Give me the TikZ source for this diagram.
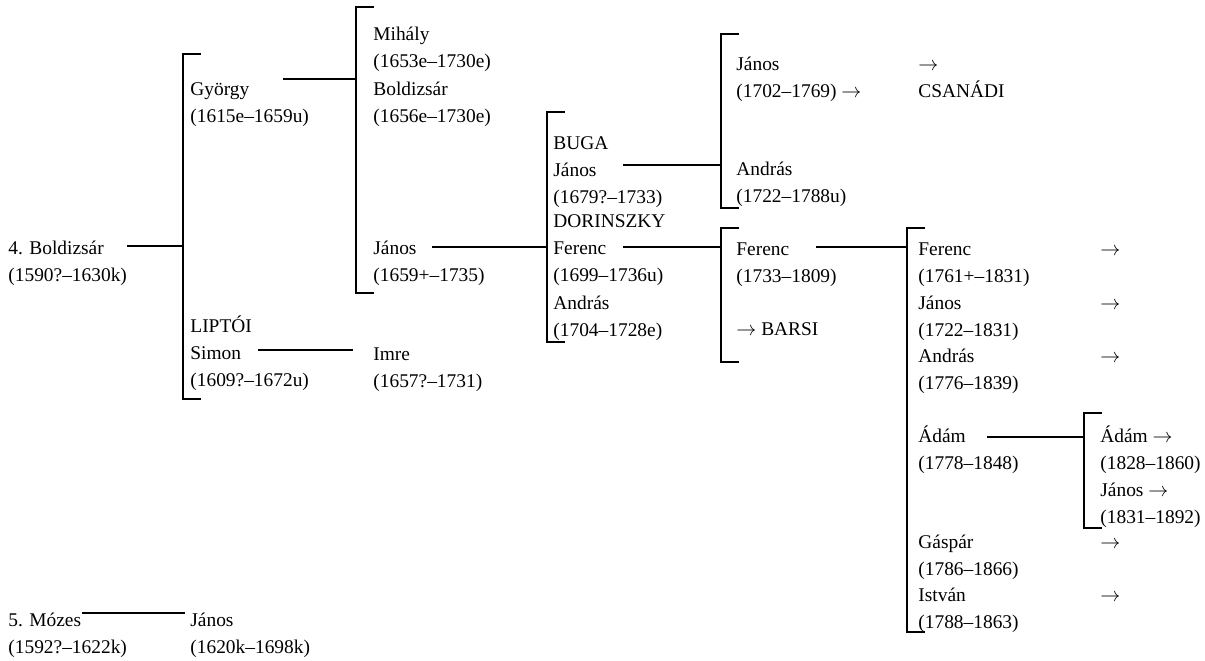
\documentclass[tikz,border=0pt]{standalone}
\usepackage{fontspec}
\setmainfont{Liberation Serif}
\usetikzlibrary{calc}
\begin{document}
\begin{tikzpicture}[x=0.5pt,y=-0.5pt,
  person/.style={anchor=base west,inner sep=0pt,align=left,font=\fontsize{9.7}{13.5}\selectfont},
  link/.style={line width=0.75pt}]
\useasboundingbox (0,0) rectangle (1205,660);

% Generation 1
\node[person] (boldizsar) at (8,281) {4. Boldizsár\\(1590?–1630k)};
\node[person] (mozes) at (8,653) {5. Mózes\\(1592?–1622k)};

% Generation 2
\node[person] (gyorgy) at (190,122) {György\\(1615e–1659u)};
\node[person] (liptoi) at (190,386) {LIPTÓI\\Simon\\(1609?–1672u)};
\node[person] (janos0) at (190,653) {János\\(1620k–1698k)};

% Generation 3
\node[person] (mihaly) at (373,67) {Mihály\\(1653e–1730e)};
\node[person] (boldizsar2) at (373,122) {Boldizsár\\(1656e–1730e)};
\node[person] (janos1) at (373,281) {János\\(1659+–1735)};
\node[person] (imre) at (373,387) {Imre\\(1657?–1731)};

% Generation 4
\node[person] (buga) at (553,203) {BUGA\\János\\(1679?–1733)};
\node[person] (dorinszky) at (553,281) {DORINSZKY\\Ferenc\\(1699–1736u)};
\node[person] (andras1) at (553,336) {András\\(1704–1728e)};

% Generation 5
\node[person] (janos2) at (736,97) {János\\(1702–1769) $\rightarrow$};
\node[person] (csanadi) at (918,97) {$\rightarrow$\\CSANÁDI};
\node[person] (andras2) at (736,202) {András\\(1722–1788u)};
\node[person] (ferenc1) at (736,282) {Ferenc\\(1733–1809)};
\node[person] (barsi) at (736,335) {$\rightarrow$ BARSI};

% Generation 6
\node[person] (ferenc2) at (918,282) {Ferenc\\(1761+–1831)};
\node[person] (janos3) at (918,336) {János\\(1722–1831)};
\node[person] (andras3) at (918,389) {András\\(1776–1839)};
\node[person] (adam1) at (918,469) {Ádám\\(1778–1848)};
\node[person] (gaspar) at (918,575) {Gáspár\\(1786–1866)};
\node[person] (istvan) at (918,628) {István\\(1788–1863)};
\foreach \name/\y in {ferenc/255,janos/309,andras/362,gaspar/548,istvan/601}
  \node[person] (arrow-\name) at (1100,\y) {$\rightarrow$};

% Generation 7
\node[person] (adam2) at (1100,469) {Ádám $\rightarrow$\\(1828–1860)};
\node[person] (janos4) at (1100,523) {János $\rightarrow$\\(1831–1892)};

% Brackets
\foreach \x/\top/\bot in {183/54/399,356/7/293,547/112/342,721/34/208,721/228/362,907/228/632,1084/413/528}
  \draw[link] (\x+18,\top) -- (\x,\top) -- (\x,\bot) -- (\x+18,\bot);
\coordinate (j1) at (183,246);
\coordinate (j2) at (356,79);
\coordinate (j3) at (547,247);
\coordinate (j4) at (721,165);
\coordinate (j5) at (721,247);
\coordinate (j6) at (907,247);
\coordinate (j7) at (1084,437);

% Descent lines
\draw[link] ($(boldizsar.base west)+(119,-35)$) -- (j1);
\draw[link] ($(gyorgy.base west)+(93,-43)$) -- (j2);
\draw[link] ($(liptoi.base west)+(68,-36)$) -- ($(imre.base west)+(-20,-37)$);
\draw[link] ($(mozes.base west)+(74,-40)$) -- ($(janos0.base west)+(-5,-40)$);
\draw[link] ($(janos1.base west)+(59,-34)$) -- (j3);
\draw[link] ($(buga.base west)+(70,-38)$) -- (j4);
\draw[link] ($(dorinszky.base west)+(70,-34)$) -- (j5);
\draw[link] ($(ferenc1.base west)+(80,-35)$) -- (j6);
\draw[link] ($(adam1.base west)+(69,-32)$) -- (j7);
\end{tikzpicture}
\end{document}
